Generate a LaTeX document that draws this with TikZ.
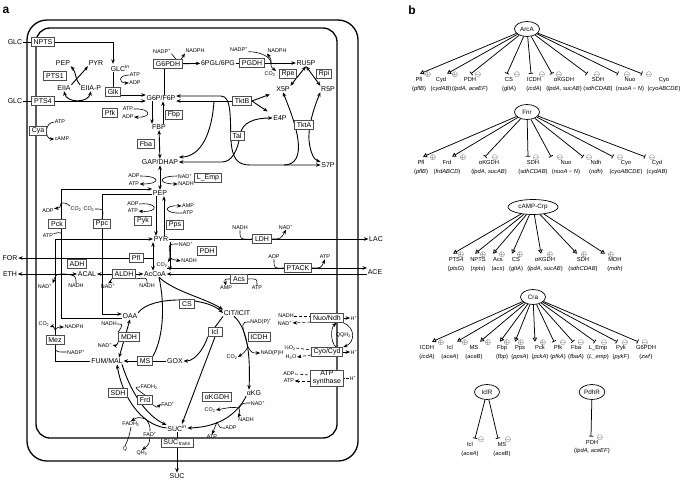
\documentclass[tikz,border=0pt]{standalone}
\usepackage{fontspec}
\setmainfont{Liberation Sans}
\usetikzlibrary{arrows.meta,shapes.geometric}
\pgfdeclarelayer{bg}
\pgfsetlayers{bg,main}

\tikzset{
  >={Stealth[length=4.5pt,width=3.6pt]},
  met/.style={font=\fontsize{7}{8}\selectfont, inner sep=0.6pt},
  cof/.style={font=\fontsize{5.4}{6}\selectfont, inner sep=0.4pt},
  enz/.style={draw=black!70, line width=0.7pt, fill=white, font=\fontsize{7}{8}\selectfont, inner xsep=2.4pt, inner ysep=1.2pt, minimum height=9pt, minimum width=14pt},
  panel/.style={font=\fontsize{12}{12}\selectfont\bfseries, inner sep=0pt},
  memb/.style={line width=1.3pt},
  ln/.style={line width=0.9pt},
  aux/.style={line width=0.6pt},
  reg/.style={ellipse, draw, line width=0.7pt, inner sep=1.2pt, minimum height=15pt, minimum width=25pt, font=\fontsize{6.3}{7}\selectfont},
  tgt/.style={anchor=north, align=center, inner sep=0.3pt, font=\fontsize{5.8}{8.5}\selectfont},
  act/.style={line width=0.75pt, -{Triangle[open,length=4pt,width=4.5pt]}},
  rep/.style={line width=0.75pt, -{Bar[width=4.5pt]}},
  sgn/.style={inner sep=0pt, font=\fontsize{7}{7}\selectfont}
}

\begin{document}
\begin{tikzpicture}[x=1pt,y=-1pt]
\useasboundingbox (0,0) rectangle (685,482);

\node[panel] (la) at (6,10) {a};
\node[panel] (lb) at (412,10) {b};

% metabolites
\node[met] (GLCa) at (15,42) {GLC};
\node[met] (GLCb) at (15,101) {GLC};
\node[met, anchor=west] (GLCin) at (110,68) {GLC\textsuperscript{in}};
\node[met] (PEPa) at (63,63) {PEP};
\node[met] (PYRa) at (96,63) {PYR};
\node[met] (EIIA) at (64,88) {EIIA};
\node[met] (EIIAP) at (91,88) {EIIA-P};
\node[met] (G6P) at (161,98) {G6P/F6P};
\node[met] (FBP) at (159,127) {FBP};
\node[met] (GAP) at (160,162) {GAP/DHAP};
\node[met] (PGL) at (218,63) {6PGL/6PG};
\node[met] (RU5P) at (306,63) {RU5P};
\node[met] (X5P) at (283,89) {X5P};
\node[met] (R5P) at (328,89) {R5P};
\node[met] (E4P) at (280,118) {E4P};
\node[met] (S7P) at (328,165) {S7P};
\node[met] (PEP) at (160,193) {PEP};
\node[met] (PYR) at (161,239) {PYR};
\node[met] (AcCoA) at (155,274) {AcCoA};
\node[met] (ACAL) at (87,274) {ACAL};
\node[met] (FOR) at (10,258) {FOR};
\node[met] (ETH) at (10,274) {ETH};
\node[met] (LAC) at (376,239) {LAC};
\node[met] (ACE) at (375,272) {ACE};
\node[met] (OAA) at (130,316) {OAA};
\node[met] (CIT) at (237,313) {CIT/ICIT};
\node[met] (GOX) at (175,361) {GOX};
\node[met] (FUM) at (107,361) {FUM/MAL};
\node[met] (aKG) at (254,393) {αKG};
\node[met] (SUCin) at (177,428) {SUC\textsuperscript{in}};
\node[met] (SUC) at (177,476) {SUC};

% enzymes
\node[enz] (NPTS) at (43,42) {NPTS};
\node[enz] (PTS4) at (43,101) {PTS4};
\node[enz] (PTS1) at (55,76) {PTS1};
\node[enz] (Glk) at (113,92) {Glk};
\node[enz] (Cya) at (38,131) {Cya};
\node[enz] (Pfk) at (110,113) {Pfk};
\node[enz] (Fbp) at (174,115) {Fbp};
\node[enz] (Fba) at (146,144) {Fba};
\node[enz] (G6PDH) at (168,64) {G6PDH};
\node[enz] (PGDH) at (252,63) {PGDH};
\node[enz] (Rpe) at (288,74) {Rpe};
\node[enz] (Rpi) at (324,74) {Rpi};
\node[enz] (TktB) at (242,101) {TktB};
\node[enz] (Tal) at (237,136) {Tal};
\node[enz] (TktA) at (304,125) {TktA};
\node[enz] (LEmp) at (208,178) {L\_Emp};
\node[enz] (Pck) at (57,224) {Pck};
\node[enz] (Ppc) at (102,224) {Ppc};
\node[enz] (Pyk) at (143,221) {Pyk};
\node[enz] (Pps) at (175,225) {Pps};
\node[enz] (Pfl) at (136,258) {Pfl};
\node[enz] (PDH) at (207,251) {PDH};
\node[enz] (ADH) at (77,264) {ADH};
\node[enz] (ALDH) at (124,274) {ALDH};
\node[enz] (LDH) at (262,239) {LDH};
\node[enz] (PTACK) at (298,268) {PTACK};
\node[enz] (Acs) at (239,279) {Acs};
\node[enz] (CS) at (187,304) {CS};
\node[enz] (MDH) at (129,337) {MDH};
\node[enz] (Mez) at (55,340) {Mez};
\node[enz] (MS) at (145,361) {MS};
\node[enz] (Icl) at (215,332) {Icl};
\node[enz] (ICDH) at (259,337) {ICDH};
\node[enz] (SDH) at (118,393) {SDH};
\node[enz] (Frd) at (145,400) {Frd};
\node[enz] (aKGDH) at (217,397) {αKGDH};
\node[enz] (Nuo) at (327,318) {Nuo/Ndh};
\node[enz] (Cyo) at (327,352) {Cyo/Cyd};
\node[enz, align=center, font=\fontsize{7}{7.5}\selectfont] (ATPs) at (327,378) {ATP\\synthase};
\node[enz] (SUCt) at (177,443) {SUC\textsubscript{\,trans}};

% cofactors
\node[cof] (NADPa) at (162,51) {NADP\textsuperscript{+}};
\node[cof] (NADPHa) at (195,51) {NADPH};
\node[cof] (NADPb) at (239,49) {NADP\textsuperscript{+}};
\node[cof] (NADPHb) at (277,51) {NADPH};
\node[cof] (CO2a) at (270,74) {CO\textsubscript{2}};
\node[cof] (ATPa) at (135,75) {ATP};
\node[cof] (ADPa) at (135,83) {ADP};
\node[cof] (ATPb) at (60,122) {ATP};
\node[cof] (cAMP) at (62,139) {cAMP};
\node[cof] (ATPc) at (128,109) {ATP};
\node[cof] (ADPc) at (128,117) {ADP};
\node[cof] (ADPd) at (134,176) {ADP};
\node[cof] (ATPd) at (134,184) {ATP};
\node[cof] (NADa) at (185,176) {NAD\textsuperscript{+}};
\node[cof] (NADHa) at (186,184) {NADH};
\node[cof] (ADPe) at (48,211) {ADP};
\node[cof] (CO2b) at (76,209) {CO\textsubscript{2}};
\node[cof] (CO2c) at (89,209) {CO\textsubscript{2}};
\node[cof] (ATPe) at (48,236) {ATP};
\node[cof] (ADPf) at (133,204) {ADP};
\node[cof] (ATPf) at (133,211) {ATP};
\node[cof] (AMPa) at (188,206) {AMP};
\node[cof] (ATPg) at (188,213) {ATP};
\node[cof] (NADb) at (186,244) {NAD\textsuperscript{+}};
\node[cof] (NADHb) at (189,261) {NADH};
\node[cof] (CO2d) at (162,265) {CO\textsubscript{2}};
\node[cof] (NADHc) at (240,228) {NADH};
\node[cof] (NADc) at (286,227) {NAD\textsuperscript{+}};
\node[cof] (ADPg) at (274,257) {ADP};
\node[cof] (ATPh) at (325,257) {ATP};
\node[cof] (AMPb) at (226,288) {AMP};
\node[cof] (ATPi) at (257,288) {ATP};
\node[cof] (NADd) at (45,286) {NAD\textsuperscript{+}};
\node[cof] (NADHd) at (76,286) {NADH};
\node[cof] (NADe) at (108,286) {NAD\textsuperscript{+}};
\node[cof] (NADHe) at (147,286) {NADH};
\node[cof] (NADHf) at (109,324) {NADH};
\node[cof] (NADf) at (105,345) {NAD\textsuperscript{+}};
\node[cof] (CO2e) at (44,324) {CO\textsubscript{2}};
\node[cof] (NADPHc) at (74,327) {NADPH};
\node[cof] (NADPc) at (76,352) {NADP\textsuperscript{+}};
\node[cof] (NADPd) at (261,322) {NAD(P)\textsuperscript{+}};
\node[cof] (NADPHd) at (272,353) {NAD(P)H};
\node[cof] (CO2f) at (232,357) {CO\textsubscript{2}};
\node[cof] (FADH2a) at (149,387) {FADH\textsubscript{2}};
\node[cof] (FADa) at (168,404) {FAD\textsuperscript{+}};
\node[cof] (FADH2b) at (131,424) {FADH\textsubscript{2}};
\node[cof] (FADb) at (150,434) {FAD\textsuperscript{+}};
\node[cof] (Qa) at (125,449) {Q};
\node[cof] (QH2a) at (142,453) {QH\textsubscript{2}};
\node[cof] (CO2g) at (210,410) {CO\textsubscript{2}};
\node[cof] (NADg) at (258,403) {NAD\textsuperscript{+}};
\node[cof] (NADHg) at (246,420) {NADH};
\node[cof] (ADPh) at (231,428) {ADP};
\node[cof] (ATPj) at (212,437) {ATP};
\node[cof] (NADHh) at (286,316) {NADH};
\node[cof] (NADh) at (285,323) {NAD\textsuperscript{+}};
\node[cof] (Hpa) at (354,318) {H\textsuperscript{+}};
\node[cof] (Qb) at (338,335) {Q};
\node[cof] (QH2b) at (345.5,335) {QH\textsubscript{2}};
\node[cof] (O2) at (290,348) {½O\textsubscript{2}};
\node[cof] (H2O) at (291,357) {H\textsubscript{2}O};
\node[cof] (Hpb) at (354,352) {H\textsuperscript{+}};
\node[cof] (ADPi) at (289,374) {ADP};
\node[cof] (ATPk) at (289,381) {ATP};
\node[cof] (Hpc) at (353,378) {H\textsuperscript{+}};

\begin{pgfonlayer}{bg}
\draw[memb, rounded corners=20pt] (27,20) rectangle (358,461);
\draw[memb, rounded corners=14pt] (36,28) rectangle (337,438);

% glucose uptake
\draw[ln] (GLCa) -- (NPTS);
\draw[ln] (GLCb) -- (PTS4);
\draw[ln,->] (NPTS) -| (Glk.north |- GLCin.north);
\draw[ln] (Glk.north |- GLCin.south) -- (Glk.north);
\draw[ln,->] ([yshift=-3pt]Glk.east) -- ([yshift=-3pt]Glk.east -| G6P.west);
\draw[ln,->] (PTS4) -- (PTS4 -| G6P.west);
\draw[aux,->] (ATPa.west) .. controls +(-11,0) and +(-11,0) .. (ADPa.west);
\draw[ln,->] (EIIA.north east) .. controls +(6,-7) and +(-6,7) .. (PYRa.south west);
\draw[ln,->] (EIIAP.north west) .. controls +(-6,-7) and +(6,7) .. (PEPa.south east);
\draw[ln,<->] (EIIA.south) .. controls +(3,12) and +(-3,12) .. (EIIAP.south);
\draw[aux,->] (ATPb.west) .. controls +(-10,0) and +(-10,0) .. (cAMP.west);

% upper glycolysis
\draw[aux,->] (ATPc.east) .. controls +(18,-1) and +(18,1) .. (ADPc.east);
\draw[ln,->] ([xshift=-9pt]G6P.south) -- ([xshift=-9pt]G6P.south |- FBP.north);
\draw[ln,->] ([xshift=4pt]FBP.north) -- ([xshift=4pt]FBP.north |- G6P.south);
\draw[ln,<->] (FBP) -- (GAP);

% pentose phosphate pathway
\draw[ln] ([xshift=-4pt]G6PDH.south) -- ([xshift=-4pt]G6PDH.south |- G6P.north);
\draw[ln,->] (G6PDH) -- (PGL);
\draw[aux,->] (NADPa.south east) .. controls +(8,10) and +(-6,9) .. (NADPHa.south west);
\draw[ln] (PGL) -- (PGDH);
\draw[ln,->] (PGDH) -- (RU5P);
\coordinate (pgj) at (271,63);
\draw[aux] (NADPb.south east) .. controls +(12,0) and +(0,-6) .. (pgj);
\draw[aux,->] (pgj) .. controls +(0,-4) .. (NADPHb.south west);
\draw[aux,->] (pgj) .. controls +(0,4) .. (CO2a.north east);
\draw[ln,<->] (RU5P.south) -- (X5P.north east);
\draw[ln,<->] (RU5P.south) -- (R5P.north west);
\draw[ln,<-] ([yshift=-3pt]G6P.east) -- (TktB.west);
\coordinate (tkbj) at (214,101);
\draw[ln,->] (tkbj) .. controls +(-2,32) and +(22,0) .. ([yshift=5pt]GAP.east);
\draw[ln,->,shorten >=6pt] (TktB.east) -- (X5P.south west);
\draw[ln,->,shorten >=6pt] (TktB.east) -- (E4P.north west);
\draw[ln,<->] ([yshift=2pt]G6P.east) -- (221,96) .. controls (232,96) and (230,120) .. (231,140) .. controls (232,158) and (237,165) .. (250,165) -- (S7P.west);
\draw[ln,<->] (GAP.east) -- (222,162) .. controls (232,162) and (238,150) .. (240,135) .. controls (242,122) and (255,118) .. (E4P.west);
\draw[ln,<-] (X5P.south) .. controls (290,110) and (296,125) .. (298,140) .. controls (300,155) and (296,165) .. (284,165);
\draw[ln,<->] (R5P.south west) .. controls (315,105) and (308,125) .. (309,140) .. controls (310,152) and (314,160) .. (S7P.north west);

% lower glycolysis
\draw[ln,<->] (GAP) -- (PEP);
\draw[aux,->] (ADPd.east) .. controls +(21,0) and +(21,0) .. (ATPd.east);
\draw[aux,->] (NADa.west) .. controls +(-20,0) and +(-20,0) .. (NADHa.west);
\draw[ln,->] ([xshift=-4pt]PEP.south) -- ([xshift=-4pt]PEP.south |- PYR.north);
\draw[ln,->] ([xshift=3pt]PYR.north) -- ([xshift=3pt]PYR.north |- PEP.south);
\draw[aux,->] (ADPf.east) .. controls +(20,-2) and +(20,2) .. (ATPf.east);
\draw[aux,->] (ATPg.west) .. controls +(-19,1) and +(-19,-1) .. (AMPa.west);

% anaplerosis
\draw[ln,<-] ([yshift=4pt]PEP.west) -| ([xshift=4pt]Pck.north);
\draw[ln] ([xshift=4pt]Pck.south) |- ([yshift=-2pt]OAA.west);
\coordinate (pcka) at (61,203);
\coordinate (pckb) at (61,233);
\draw[aux,->] (pcka) .. controls +(-1,5) .. (ADPe.north east);
\draw[aux] (CO2b.north west) .. controls +(-4,-3) .. (pcka);
\draw[aux] (ATPe.north east) .. controls +(5,-1) .. (pckb);
\draw[ln] ([yshift=-1pt]PEP.west) -| (Ppc.north);
\draw[ln,->] (Ppc.south) |- ([yshift=2pt]OAA.west);
\draw[aux] (CO2c.east) .. controls +(9,0) .. (Ppc.north);
\draw[ln] (FUM.west) -| (Mez.south);
\draw[ln,->] (Mez.north) |- (PYR.west);
\coordinate (mza) at (55,330);
\coordinate (mzb) at (55,350);
\draw[aux,->] (mza) .. controls +(-2,-4) .. (CO2e.south east);
\draw[aux,->] (mza) .. controls +(3,-3) .. (NADPHc.west);
\draw[aux] (NADPc.west) .. controls +(-9,0) .. (mzb);

% fermentation
\draw[ln,->] (PYR.east) -- (LAC.west);
\draw[aux] (NADHc.south) .. controls +(0,9) .. (LDH.west);
\draw[aux,->] (LDH.east) .. controls +(9,0) .. (NADc.south);
\draw[ln,<->] ([xshift=-8pt]PYR.south) -- ([xshift=-8pt]PYR.south |- AcCoA.north);
\coordinate (pflj) at (153,258);
\draw[ln] (Pfl.east) -- (pflj);
\draw[ln,->] (Pfl.west) -- (FOR.east);
\draw[ln,->] ([xshift=9pt]PYR.south) -- ([xshift=9pt]PYR.south |- AcCoA.north);
\coordinate (pdhj) at (170,253);
\draw[aux] (NADb.west) .. controls +(-10,0) .. (pdhj);
\draw[aux,->] (pdhj) .. controls +(0,6) .. (NADHb.west);
\draw[aux,->] (pdhj) .. controls +(0,6) .. (CO2d.north east);
\draw[ln,->] ([yshift=6pt]AcCoA.east) -- ([yshift=6pt]AcCoA.east -| ACE.west);
\draw[ln,->] ([yshift=-2pt]ACE.west) -- (AcCoA.east);
\draw[aux] (ADPg.south) .. controls +(0,9) .. (PTACK.west);
\draw[aux,->] (PTACK.east) .. controls +(9,0) .. (ATPh.south);
\draw[aux,->] (Acs.west) .. controls +(-6,0) .. (AMPb.north);
\draw[aux] (ATPi.north) .. controls +(0,-7) .. (Acs.east);
\draw[ln,<->] (ETH.east) -- (ACAL.west);
\draw[ln,<->] (ACAL.east) -- (AcCoA.west);
\coordinate (adhj) at (65,274);
\draw[aux,->] (adhj) .. controls +(-9,0) .. (NADd.north east);
\draw[aux] (NADHd.north) .. controls +(0,-8) .. (adhj);
\draw[aux,->] (ALDH.south west) .. controls +(-3,4) .. (NADe.north);
\draw[aux] (NADHe.north) .. controls +(0,-6) .. (ALDH.south east);

% TCA cycle and glyoxylate shunt
\draw[ln,->] (OAA.north east) .. controls (150,296) and (205,296) .. (CIT.west);
\draw[ln,->] ([xshift=4pt]AcCoA.south) .. controls (175,292) and (205,298) .. (CIT.north west);
\draw[ln] ([xshift=4pt]AcCoA.south) .. controls (166,310) and (162,340) .. (MS.north east);
\draw[ln,->] (GOX.west) -- (FUM.east);
\draw[ln,<->] (OAA.south) -- ([xshift=12pt]FUM.north);
\draw[aux] (NADHf.east) .. controls +(6,0) .. (MDH.north west);
\draw[aux,->] (MDH.south west) .. controls +(-2,4) .. (NADf.east);
\draw[ln] (CIT.south west) -- (Icl.north);
\draw[ln,->] (Icl.south west) .. controls (205,346) and (196,361) .. (GOX.east);
\draw[ln,->] (Icl.south) -- ([xshift=5pt]SUCin.north);
\draw[ln,->] ([xshift=-3pt]CIT.south) .. controls (250,330) and (250,365) .. ([xshift=-5pt]aKG.north);
\coordinate (icdj) at (248,347);
\draw[aux] (NADPd.west) .. controls +(-9,0) .. (icdj);
\draw[aux,->] (icdj) .. controls +(-4,6) .. (CO2f.east);
\draw[aux,->] (icdj) .. controls +(4,6) .. (NADPHd.west);
\draw[ln,<-] ([xshift=10pt]FUM.south) .. controls (122,395) and (140,425) .. (SUCin.west);
\draw[ln,->] ([xshift=15pt]FUM.south) .. controls (130,390) and (145,415) .. ([yshift=3pt]SUCin.west);
\draw[aux] (FADH2a.west) .. controls +(-6,0) .. (Frd.north);
\draw[aux,->] (Frd.south east) .. controls +(4,3) .. (FADa.west);
\coordinate (sdhj) at (146,419);
\draw[aux,->] (sdhj) .. controls +(-8,-2) .. (FADH2b.north);
\draw[aux] (FADb.north) .. controls +(0,-6) .. (sdhj);
\draw[aux] (FADH2b.south) .. controls +(-2,10) .. (Qa.north);
\draw[aux,->] (FADb.south) .. controls +(-1,8) .. (QH2a.north);
\draw[ln,->] (aKG.south west) .. controls (238,412) and (222,427) .. (SUCin.east);
\coordinate (akja) at (239,408);
\coordinate (akjb) at (217,422);
\draw[aux] (NADg.west) .. controls +(-8,0) .. (akja);
\draw[aux,->] (akja) .. controls +(1,6) .. (NADHg.north west);
\draw[aux,->] (akja) .. controls +(-7,-1) .. (CO2g.east);
\draw[aux] (ADPh.west) .. controls +(-5,0) .. (akjb);
\draw[aux,->] (akjb) .. controls +(-2,5) .. (ATPj.north);

% respiratory chain
\draw[aux,densely dashed] (NADHh.east) -- ([yshift=2pt]Nuo.west);
\draw[aux,densely dashed,->] ([yshift=-4pt]Nuo.west) -- (NADh.east);
\draw[aux,->] (Nuo.east) -- (Hpa.west);
\draw[aux,->] (Nuo.south east) .. controls +(12,5) and +(12,-5) .. (Cyo.north east);
\draw[aux,->] ([xshift=-7pt]Cyo.north east) .. controls +(-6,-5) and +(-6,5) .. ([xshift=-7pt]Nuo.south east);
\draw[aux,densely dashed] (O2.east) -- ([yshift=2pt]Cyo.west);
\draw[aux,densely dashed,->] ([yshift=-3pt]Cyo.west) -- (H2O.east);
\draw[aux,->] (Cyo.east) -- (Hpb.west);
\draw[aux,densely dashed] (ADPi.east) -- ([yshift=3pt]ATPs.west);
\draw[aux,densely dashed,->] ([yshift=-3pt]ATPs.west) -- (ATPk.east);
\draw[aux,densely dashed] (Hpc.west) -- (ATPs.east);

% succinate export
\draw[ln] (SUCin.south) -- (SUCt.north);
\draw[ln,->] (SUCt.south) -- (SUC.north);
\end{pgfonlayer}

% panel b: regulators
\node[reg] (ArcA) at (527,29) {ArcA};
\node[reg] (Fnr) at (527,112) {Fnr};
\node[reg, minimum width=50pt] (Crp) at (533,207) {cAMP-Crp};
\node[reg] (Cra) at (533,297) {Cra};
\node[reg] (IclR) at (487,392) {IclR};
\node[reg] (PdhR) at (592,392) {PdhR};

% ArcA
\foreach \nn/\xx/\lab/\gen/\dd/\ee in {1/419/Pfl/pflB/1/9, 2/441/Cyd/cydAB/6/14}{
  \node[tgt] (ar\nn) at (\xx,77.2) {\lab\\(\textit{\gen})};
  \draw[act] (ArcA) -- ([xshift=\dd pt,yshift=3.5pt]ar\nn.north);
  \node[sgn] (sar\nn) at ([xshift=\ee pt,yshift=2.5pt]ar\nn.north) {$\oplus$};
}
\foreach \nn/\xx/\lab/\gen/\dd/\ee in {3/470/PDH/{lpdA, aceEF}/1/8, 4/509/CS/gltA/-2/8, 5/534/ICDH/icdA/-3/8,
  6/564/αKGDH/{lpdA, sucAB}/-12/-5, 7/598/SDH/sdhCDAB/-11/-1, 8/630/Nuo/{nuoA − N}/-12/-3, 9/664/Cyo/cyoABCDE/-22/-15}{
  \node[tgt] (ar\nn) at (\xx,77.2) {\lab\\(\textit{\gen})};
  \draw[rep] (ArcA) -- ([xshift=\dd pt,yshift=3.5pt]ar\nn.north);
  \node[sgn] (sar\nn) at ([xshift=\ee pt,yshift=2.5pt]ar\nn.north) {$\ominus$};
}

% Fnr
\foreach \nn/\xx/\lab/\gen/\dd/\ee in {1/421/Pfl/pflB/2/12, 2/447/Frd/frdABCD/5/16}{
  \node[tgt] (fn\nn) at (\xx,160.2) {\lab\\(\textit{\gen})};
  \draw[act] (Fnr) -- ([xshift=\dd pt,yshift=3.5pt]fn\nn.north);
  \node[sgn] (sfn\nn) at ([xshift=\ee pt,yshift=2.5pt]fn\nn.north) {$\oplus$};
}
\foreach \nn/\xx/\lab/\gen/\dd/\ee in {3/489/αKGDH/{lpdA, sucAB}/-4/6, 4/533/SDH/sdhCDAB/-5/3, 5/566/Nuo/{nuoA − N}/-15/-6,
  6/596/Ndh/ndh/-13/-7, 7/626/Cyo/cyoABCDE/-13/-6, 8/657/Cyd/cydAB/-12/-5}{
  \node[tgt] (fn\nn) at (\xx,160.2) {\lab\\(\textit{\gen})};
  \draw[rep] (Fnr) -- ([xshift=\dd pt,yshift=3.5pt]fn\nn.north);
  \node[sgn] (sfn\nn) at ([xshift=\ee pt,yshift=2.5pt]fn\nn.north) {$\ominus$};
}

% cAMP-Crp
\foreach \nn/\xx/\lab/\gen/\dd/\ee in {1/456/PTS4/ptsG/-3/5, 2/478/NPTS/npts/-3/5, 3/498/Acs/acs/-5/4, 4/516/CS/gltA/-4/4,
  5/545/αKGDH/{lpdA, sucAB}/-4/5, 6/583/SDH/sdhCDAB/-6/1, 7/615/MDH/mdh/-10/-4}{
  \node[tgt] (cr\nn) at (\xx,257.2) {\lab\\(\textit{\gen})};
  \draw[act] (Crp) -- ([xshift=\dd pt,yshift=3.5pt]cr\nn.north);
  \node[sgn] (scr\nn) at ([xshift=\ee pt,yshift=2.5pt]cr\nn.north) {$\oplus$};
}

% Cra
\foreach \nn/\xx/\lab/\gen/\dd/\ee in {1/427/ICDH/icdA/5/14, 2/450/Icl/aceA/7/15, 3/474/MS/aceB/6/14,
  4/502/Fbp/fbp/-2/5, 5/520/Pps/ppsA/-5/1, 6/540/Pck/pckA/-5/3}{
  \node[tgt] (ca\nn) at (\xx,345.2) {\lab\\(\textit{\gen})};
  \draw[act] (Cra) -- ([xshift=\dd pt,yshift=3.5pt]ca\nn.north);
  \node[sgn] (sca\nn) at ([xshift=\ee pt,yshift=2.5pt]ca\nn.north) {$\oplus$};
}
\foreach \nn/\xx/\lab/\gen/\dd/\ee in {7/558/Pfk/pfkA/-4/5, 8/576/Fba/fbaA/-3/5, 9/598/L\_Emp/L\_emp/-3/6,
  10/621/Pyk/pykF/-4/4, 11/646/G6PDH/zwf/-8/-1}{
  \node[tgt] (ca\nn) at (\xx,345.2) {\lab\\(\textit{\gen})};
  \draw[rep] (Cra) -- ([xshift=\dd pt,yshift=3.5pt]ca\nn.north);
  \node[sgn] (sca\nn) at ([xshift=\ee pt,yshift=2.5pt]ca\nn.north) {$\ominus$};
}

% IclR and PdhR
\foreach \nn/\xx/\lab/\gen/\dd/\ee in {1/470/Icl/aceA/5/11, 2/502/MS/aceB/-4/6}{
  \node[tgt] (ic\nn) at (\xx,442) {\lab\\(\textit{\gen})};
  \draw[rep] (IclR) -- ([xshift=\dd pt,yshift=3.5pt]ic\nn.north);
  \node[sgn] (sic\nn) at ([xshift=\ee pt,yshift=2.5pt]ic\nn.north) {$\ominus$};
}
\node[tgt] (pd1) at (592,440) {PDH\\(\textit{lpdA, aceEF})};
\draw[rep] (PdhR) -- ([xshift=-1pt,yshift=3.5pt]pd1.north);
\node[sgn] (spd1) at ([xshift=8pt,yshift=2.5pt]pd1.north) {$\ominus$};

\end{tikzpicture}
\end{document}
